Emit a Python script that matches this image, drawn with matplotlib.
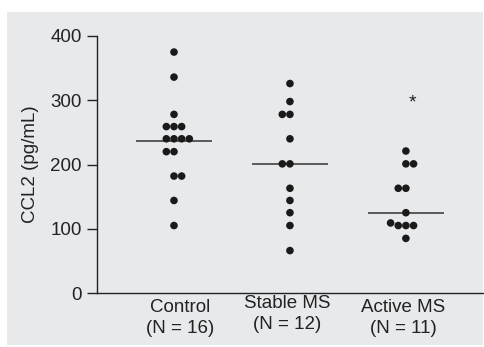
import matplotlib.pyplot as plt
import matplotlib.transforms as mtransforms

plt.rcParams['font.family'] = ['Liberation Sans', 'DejaVu Sans']

groups = ['Control\n(N = 16)', 'Stable MS\n(N = 12)', 'Active MS\n(N = 11)']

control = [375, 336, 278, 259, 259, 259, 240, 240, 240, 240, 220, 220, 182, 182, 144, 105]
control_slot = [0, 0, 0, -1, 0, 1, -1, 0, 1, 2, -1, 0, 0, 1, 0, 0]

stable = [326, 298, 278, 278, 240, 201, 201, 163, 144, 125, 105, 66]
stable_slot = [0, 0, -1, 0, 0, -1, 0, 0, 0, 0, 0, 0]

active = [221, 201, 201, 163, 163, 125, 109, 105, 105, 105, 85]
active_slot = [0, 0, 1, -1, 0, 0, -2, -1, 0, 1, 0]

medians = [237, 201, 125]

fig = plt.figure(figsize=(4.85, 3.47), dpi=100)
fig.patch.set_facecolor('white')

# grey panel behind everything
bg = fig.add_axes([7 / 485, 2 / 347, 476 / 485, 333 / 347], zorder=-1)
bg.set_facecolor('#e8e9eb')
bg.set_xticks([])
bg.set_yticks([])
for sp in bg.spines.values():
    sp.set_visible(False)

ax = fig.add_axes([97 / 485, 1 - 293 / 347, 386 / 485, 257 / 347])
ax.set_facecolor('none')

step = 0.066
all_vals = [control, stable, active]
all_slots = [control_slot, stable_slot, active_slot]
for i, (vals, slots) in enumerate(zip(all_vals, all_slots)):
    xs = [i + 1 + s * step for s in slots]
    ax.scatter(xs, vals, s=30, color='#1a1a1a', edgecolor='none', zorder=3)
    ax.hlines(medians[i], i + 1 - 0.33, i + 1 + 0.33, color='#333333', lw=1.1, zorder=2)

ax.text(3.06, 296, '*', ha='center', va='center', fontsize=14, color='#222222')

ax.set_xlim(0.336, 3.665)
ax.set_ylim(0, 400)
ax.set_yticks([0, 100, 200, 300, 400])
ax.set_xticks([])
ax.tick_params(axis='y', direction='out', length=7, width=1, labelsize=13.5, pad=4, colors='#222222')
for sp in ['top', 'right']:
    ax.spines[sp].set_visible(False)
for sp in ['left', 'bottom']:
    ax.spines[sp].set_linewidth(1)
    ax.spines[sp].set_color('#222222')

ax.set_ylabel('CCL2 (pg/mL)', fontsize=13.5, color='#222222', labelpad=8)

trans = mtransforms.blended_transform_factory(ax.transData, fig.transFigure)
label_x = [1.05, 1.98, 2.98]
label_y = [1 - 299 / 347, 1 - 295 / 347, 1 - 299 / 347]
for lx, ly, g in zip(label_x, label_y, groups):
    ax.text(lx, ly, g, transform=trans, ha='center', va='top', fontsize=13.5,
            color='#222222', linespacing=1.3)

fig.savefig('out.png', dpi=100, facecolor=fig.get_facecolor())
